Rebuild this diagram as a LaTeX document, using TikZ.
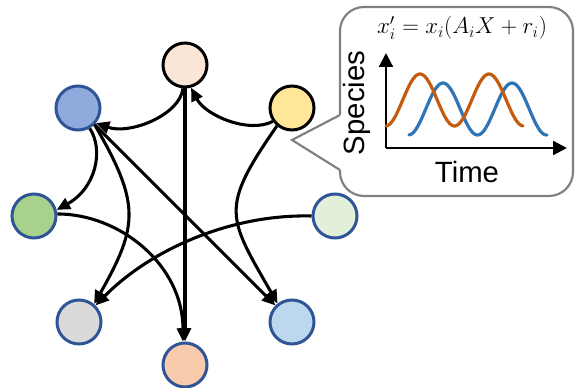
\documentclass[tikz,border=0pt]{standalone}
\usepackage{fontspec}
\setsansfont{Liberation Sans}
\usetikzlibrary{arrows.meta}
\definecolor{nbord}{HTML}{2F5597}
\definecolor{cTop}{HTML}{FBE5D6}
\definecolor{cBlue}{HTML}{8FAADC}
\definecolor{cYel}{HTML}{FFE699}
\definecolor{cGreen}{HTML}{A9D18E}
\definecolor{cLGreen}{HTML}{E2F0D9}
\definecolor{cGray}{HTML}{D9D9D9}
\definecolor{cLBlue}{HTML}{BDD7EE}
\definecolor{cBot}{HTML}{F8CBAD}
\definecolor{cOrange}{HTML}{C55A11}
\definecolor{cLine}{HTML}{2E75B6}
\definecolor{cCallout}{HTML}{7F7F7F}
\begin{document}
\begin{tikzpicture}[x=0.75pt,y=-0.75pt,
  nd/.style={circle,minimum size=33pt,inner sep=0pt,line width=2.25pt,draw=nbord},
  edge/.style={line width=2.3pt,-{Triangle[length=10pt,width=9pt]}},
  callout/.style={draw=cCallout,line width=1.6pt},
  axis/.style={line width=1.6pt,-{Triangle[length=10.5pt,width=10.5pt]}},
  curve/.style={line width=2.4pt,line cap=round}]
\useasboundingbox (0,0) rectangle (575,388);

% callout
\draw[callout,fill=white,rounded corners=18] (340,7) rectangle (573,196);
\fill[white] (292,140) -- (340,115) -- (343,115) -- (343,170) -- (340,170) -- cycle;
\draw[callout,line join=miter] (340,115) -- (292,140) -- (340,170);

\node (eq) at (462,28) {\fontsize{16.5}{18}\selectfont $x_i^{\prime}=x_i(A_iX+r_i)$};
\node[rotate=90] (sp) at (357,103) {\sffamily\fontsize{22}{26}\selectfont Species};
\node (tm) at (467,172) {\sffamily\fontsize{22}{26}\selectfont Time};

\coordinate (o) at (386,148);
\coordinate (ytip) at (386,53);
\coordinate (xtip) at (567,148);
\draw[axis] (o) -- (ytip);
\draw[axis] (o) -- (xtip);

\draw[curve,cLine] plot[domain=409:547,samples=80] (\x,{109-26*cos(5.21739*(\x-443))});
\draw[curve,cOrange] plot[domain=386:523,samples=80] (\x,{100-26*cos(5.21739*(\x-420))});

% nodes
\node[nd,fill=cTop,draw=black] (T) at (185,65) {};
\node[nd,fill=cBlue] (B) at (78,108) {};
\node[nd,fill=cYel,draw=black] (Y) at (292,108) {};
\node[nd,fill=cGreen] (G) at (34,216) {};
\node[nd,fill=cLGreen] (L) at (335,216) {};
\node[nd,fill=cGray] (Gr) at (79,322) {};
\node[nd,fill=cLBlue] (LB) at (292,322) {};
\node[nd,fill=cBot] (Bo) at (185,365) {};

% edges
\draw[edge] (T.-95) .. controls (180,115) and (130,135) .. (B.-40);
\draw[edge] (Y.215) .. controls (248,134) and (205,115) .. (T.-75);
\draw[edge] (T.-90) -- (Bo.90);
\draw[edge] (B.-60) .. controls (104,150) and (96,188) .. (G.15);
\draw[edge] (B.-45) .. controls (140,203) and (139,225) .. (Gr.50);
\draw[edge] (B.-45) -- (LB.135);
\draw[edge] (G.5) .. controls (120,214) and (183,265) .. (Bo.95);
\draw[edge] (Y.230) .. controls (219.5,208.5) and (227.5,216.4) .. (LB.128);
\draw[edge] (L.180) .. controls (230,214) and (150,250) .. (Gr.45);
\end{tikzpicture}
\end{document}
